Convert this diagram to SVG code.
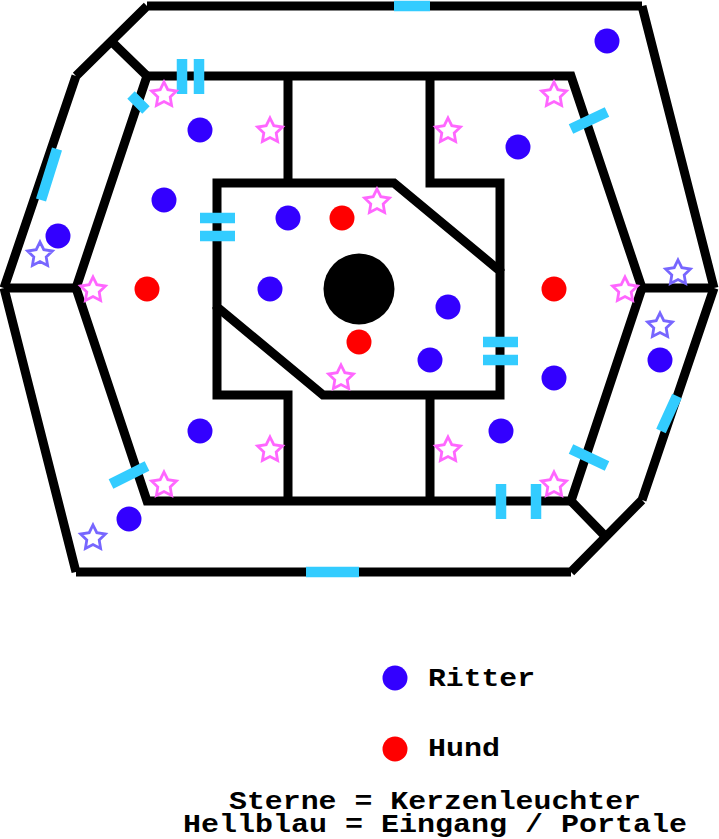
<svg xmlns="http://www.w3.org/2000/svg" width="719" height="839" viewBox="0 0 719 839">
<style>
.w{fill:none;stroke:#000;stroke-width:9;stroke-linejoin:miter;stroke-linecap:butt}
.p{fill:none;stroke:#33ccff;stroke-width:10.5}
.b{fill:#3300ff}
.r{fill:#ff0000}
.s1{fill:none;stroke:#ff66ff;stroke-width:2.8}
.s2{fill:none;stroke:#7766ff;stroke-width:2.8}
text{font-family:"Liberation Mono","Courier New",monospace;font-weight:bold;font-size:25px;fill:#000}
</style>
<defs>
<polygon id="star" points="0,-13 3.8,-5.300 12.400,-4 6.200,2 7.600,10.500 0,6.500 -7.600,10.500 -6.200,2 -12.400,-4 -3.800,-5.300"/>
</defs>
<rect width="719" height="839" fill="#fff"/>
<g id="walls">
<path class="w" d="M147 6H642M642 6L714 288M714 288L642 500M642 500L571 572M571 572H76M76 572L4 288M4 288L76 76M76 76L147 6"/>
<path class="w" d="M147 76H571L642 288L571 501H147L76 288Z"/>
<path class="w" d="M111 41L147 76M571 501L606 537M4 288H76M642 288H714"/>
<path class="w" d="M217 183H394L500 271V395H323L217 307Z"/>
<path class="w" d="M288 76V183M430 76V183H500V271M217 307V395H288V501M430 395V501"/>
</g>
<g id="portals">
<path class="p" d="M394 6H430M306 572H359M57 149L41 200M131 95L146 110M182 59V94M199 59V94M200 218H235M200 236H235M483 342H518M483 360H518M571 129L607 112M571 449L607 466M677 396L661 431M501 484V519M536 484V519M111 484L147 466"/>
</g>
<g id="center"><circle cx="359" cy="289" r="35.500"/></g>
<g id="ritter">
<circle class="b" cx="607" cy="41" r="12.500"/><circle class="b" cx="200" cy="130" r="12.500"/><circle class="b" cx="518" cy="147" r="12.500"/><circle class="b" cx="164" cy="200" r="12.500"/><circle class="b" cx="58" cy="236" r="12.500"/><circle class="b" cx="288" cy="218" r="12.500"/><circle class="b" cx="270" cy="289" r="12.500"/><circle class="b" cx="448" cy="307" r="12.500"/><circle class="b" cx="430" cy="360" r="12.500"/><circle class="b" cx="554" cy="378" r="12.500"/><circle class="b" cx="660" cy="360" r="12.500"/><circle class="b" cx="501" cy="431" r="12.500"/><circle class="b" cx="200" cy="431" r="12.500"/><circle class="b" cx="129" cy="519" r="12.500"/>
</g>
<g id="hunde">
<circle class="r" cx="342" cy="218" r="12.500"/><circle class="r" cx="147" cy="289" r="12.500"/><circle class="r" cx="554" cy="289" r="12.500"/><circle class="r" cx="359" cy="342" r="12.500"/>
</g>
<g id="sterne">
<use href="#star" class="s1" x="164" y="95"/><use href="#star" class="s1" x="270" y="131"/><use href="#star" class="s1" x="554" y="95"/><use href="#star" class="s1" x="448" y="131"/><use href="#star" class="s1" x="377" y="202"/><use href="#star" class="s1" x="93" y="290"/><use href="#star" class="s1" x="625" y="290"/><use href="#star" class="s1" x="341" y="378"/><use href="#star" class="s1" x="270" y="450"/><use href="#star" class="s1" x="448" y="450"/><use href="#star" class="s1" x="164" y="485"/><use href="#star" class="s1" x="554" y="485"/>
<use href="#star" class="s2" x="40" y="255"/><use href="#star" class="s2" x="678" y="273"/><use href="#star" class="s2" x="660" y="326"/><use href="#star" class="s2" x="93" y="538"/>
</g>
<g id="legend">
<circle class="b" cx="395" cy="678" r="12.500"/>
<text x="428" y="686" textLength="107" lengthAdjust="spacingAndGlyphs">Ritter</text>
<circle class="r" cx="395" cy="749" r="12.500"/>
<text x="428" y="756" textLength="72" lengthAdjust="spacingAndGlyphs">Hund</text>
<text x="229" y="809" textLength="412" lengthAdjust="spacingAndGlyphs">Sterne = Kerzenleuchter</text>
<text x="183" y="832" textLength="504" lengthAdjust="spacingAndGlyphs">Hellblau = Eingang / Portale</text>
</g>
</svg>
